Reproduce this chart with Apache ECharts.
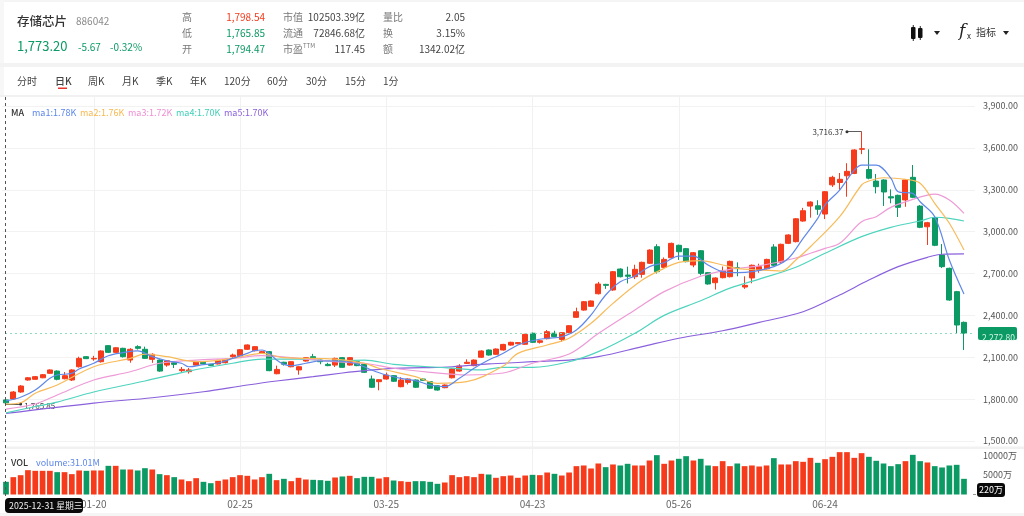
<!DOCTYPE html>
<html><head><meta charset="utf-8">
<style>html,body{margin:0;padding:0;background:#fff;overflow:hidden}#c{width:1024px;height:516px}</style>
<script src="https://cdn.jsdelivr.net/npm/echarts@6/dist/echarts.min.js"></script>
</head><body><div id="c"></div>
<script>
const dates=['12-31','01-05','01-06','01-07','01-08','01-09','01-12','01-13','01-14','01-15','01-16','01-19','01-20','01-21','01-22','01-23','01-26','01-27','01-28','01-29','01-30','02-02','02-03','02-04','02-05','02-06','02-09','02-10','02-11','02-12','02-13','02-24','02-25','02-26','02-27','03-02','03-03','03-04','03-05','03-06','03-09','03-10','03-11','03-12','03-13','03-16','03-17','03-18','03-19','03-20','03-23','03-24','03-25','03-26','03-27','03-30','03-31','04-01','04-02','04-03','04-07','04-08','04-09','04-10','04-13','04-14','04-15','04-16','04-17','04-20','04-21','04-22','04-23','04-24','04-27','04-28','04-29','04-30','05-06','05-07','05-08','05-11','05-12','05-13','05-14','05-15','05-18','05-19','05-20','05-21','05-22','05-25','05-26','05-27','05-28','05-29','06-01','06-02','06-03','06-04','06-05','06-08','06-09','06-10','06-11','06-12','06-15','06-16','06-17','06-18','06-22','06-23','06-24','06-25','06-26','06-29','06-30','07-01','07-02','07-03','07-06','07-07','07-08','07-09','07-10','07-13','07-14','07-15','07-16','07-17','07-20','07-21',''];
const opens=[1794.47,1801,1851,1937,1942,1953,1985,2001,1946,1937,2032,2104,2088,2068,2183,2135,2164,2080,2176,2157,2085,2080,2044,2061,2004,1997,2044,2064,2049,2052,2061,2104,2111,2157,2147,2128,2140,1982,2064,2032,2009,2073,2104,2080,2049,2044,2097,2044,2068,2049,1944,1925,1944,1968,1889,1920,1937,1944,1925,1896,1882,1953,2001,2056,2040,2100,2152,2121,2152,2187,2197,2193,2272,2207,2233,2272,2228,2276,2386,2438,2465,2555,2622,2582,2732,2689,2677,2694,2773,2892,2744,2813,2902,2878,2761,2863,2706,2634,2670,2677,2742,2603,2668,2725,2734,2890,2782,2916,2928,3076,3183,3185,3126,3335,3352,3400,3417,3590,3445,3362,3370,3250,3260,3227,3389,3183,3035,3100,2832,2737,2570,2350];
const closes=[1773.20,1851,1894,1953,1961,1975,2009,1942,1968,2009,2092,2090,2092,2145,2135,2168,2104,2157,2164,2092,2121,2001,2075,2049,2013,2009,2068,2054,2042,2078,2085,2116,2154,2188,2176,2140,2004,2013,2050,2068,2032,2097,2088,2068,2040,2092,2028,2097,2040,1992,1885,1939,1973,1928,1937,1944,1885,1935,1878,1865,1901,2016,2037,2064,2080,2145,2116,2159,2192,2207,2205,2264,2207,2218,2283,2248,2276,2326,2426,2498,2503,2625,2615,2713,2677,2680,2730,2780,2868,2713,2801,2916,2856,2785,2849,2701,2625,2668,2718,2787,2735,2615,2759,2749,2801,2759,2909,2976,3092,3150,3212,3160,3286,3389,3375,3432,3585,3594,3383,3322,3284,3241,3174,3370,3246,3031,3064,2902,2749,2510,2331,2272.80];
const lows=[1765.85,1795,1846,1932,1938,1950,1982,1935,1942,1930,2026,2087,2075,2062,2130,2132,2098,2061,2155,2088,2060,1996,2032,2023,1995,1983,2040,2050,2038,2048,2056,2090,2106,2152,2142,2124,2000,1978,2040,2028,1975,2069,2084,2050,2036,2030,2024,2040,2036,1988,1880,1863,1940,1924,1885,1905,1881,1931,1874,1861,1878,1948,1996,2052,2036,2096,2112,2117,2148,2183,2193,2189,2203,2198,2228,2244,2212,2272,2382,2434,2460,2550,2590,2576,2672,2629,2660,2670,2768,2700,2738,2808,2797,2780,2745,2687,2620,2585,2665,2672,2680,2590,2630,2705,2729,2754,2776,2911,2923,3071,3100,3120,3090,3320,3300,3250,3412,3555,3375,3274,3184,3203,3105,3178,3240,3025,2904,2896,2739,2505,2271,2152];
const highs=[1798.54,1858,1900,1958,1966,1980,2013,2006,1994,2014,2104,2108,2110,2150,2187,2172,2168,2165,2186,2176,2128,2085,2080,2066,2030,2023,2072,2068,2052,2082,2090,2126,2158,2192,2180,2146,2145,2040,2068,2072,2036,2101,2124,2084,2060,2097,2102,2102,2072,2053,1969,1943,1990,1972,1957,1948,1941,1948,1929,1900,1905,2021,2050,2085,2084,2150,2156,2163,2196,2211,2208,2268,2276,2222,2295,2290,2280,2330,2455,2503,2507,2640,2626,2718,2737,2749,2763,2785,2873,2910,2815,2921,2907,2883,2854,2868,2711,2673,2750,2792,2780,2680,2764,2770,2806,2910,2914,2981,3097,3170,3217,3225,3291,3400,3420,3490,3590,3716.37,3590,3413,3375,3303,3265,3375,3477,3190,3070,3110,2911,2742,2575,2356];
const volumes=[3250,4450,4950,6240,6070,6070,6070,5730,5730,5220,6160,6070,6160,6160,7350,7350,6410,6410,6160,6750,6410,5220,4960,4450,3850,3420,4190,3250,2900,3500,3850,4450,4960,4790,3850,4440,5300,3680,4020,3420,4280,3850,3760,3680,3510,4360,4620,4790,4190,4530,4530,4100,4450,3590,3420,3250,3420,3420,3250,2740,3080,4960,4450,4700,4450,5300,5130,4280,4700,4870,4280,4870,5040,4960,5640,5300,4870,5640,7270,7440,6670,7950,7010,7700,7440,7870,7440,7440,8720,10090,7870,8720,9150,9830,8720,9150,7440,7270,8550,7270,7950,7270,7440,7180,7440,9320,7700,7700,8550,8380,9400,8120,9060,9660,10860,10860,9400,10600,9660,8640,7950,7270,7780,8550,10170,8550,8210,7270,6930,7440,7610,4020];
const ma1=[[0,1787],[2,1813],[4,1865],[6,1949],[7,1973],[9,1985],[10,2016],[12,2057],[14,2111],[16,2133],[18,2145],[20,2104],[22,2075],[24,2057],[25,2032],[27,2047],[29,2059],[31,2092],[33,2128],[34,2147],[35,2152],[36,2128],[37,2080],[38,2049],[39,2039],[41,2057],[43,2073],[45,2073],[47,2064],[49,2032],[50,2009],[52,1973],[54,1949],[56,1932],[58,1901],[60,1889],[62,1949],[64,2021],[66,2080],[67,2104],[68,2128],[70,2188],[72,2219],[74,2236],[76,2247],[78,2295],[80,2403],[82,2546],[84,2641],[86,2682],[88,2749],[90,2777],[92,2825],[94,2825],[96,2761],[98,2713],[100,2706],[102,2713],[105,2749],[107,2809],[109,2952],[111,3095],[112,3191],[114,3298],[116,3441],[117,3477],[119,3477],[121,3384],[122,3286],[124,3274],[125,3214],[127,3107],[129,2797],[131,2553]];
const ma2=[[0,1765],[2,1774],[4,1842],[7,1901],[12,2032],[17,2092],[19,2123],[22,2104],[26,2068],[31,2092],[35,2128],[38,2097],[45,2087],[49,2057],[51,2021],[56,1961],[59,1913],[63,1925],[68,2037],[70,2128],[74,2188],[77,2236],[80,2343],[83,2486],[87,2653],[90,2737],[92,2780],[95,2792],[98,2761],[100,2737],[103,2725],[106,2718],[108,2797],[110,2892],[114,3107],[117,3334],[118,3363],[120,3386],[123,3375],[125,3346],[127,3203],[129,3060],[131,2868]];
const ma3=[[0,1729],[4,1765],[7,1830],[12,1937],[17,1996],[21,2057],[26,2080],[31,2092],[35,2111],[40,2092],[45,2068],[49,2057],[53,2021],[58,1992],[63,1973],[68,1987],[72,2057],[77,2123],[81,2270],[86,2438],[90,2570],[95,2680],[99,2730],[103,2755],[108,2811],[110,2845],[112,2880],[114,2916],[117,3071],[119,3107],[121,3174],[124,3231],[126,3262],[127,3269],[129,3227],[131,3131]];
const ma4=[[0,1701],[4,1747],[7,1779],[12,1851],[19,1930],[25,2001],[31,2057],[35,2087],[40,2087],[45,2073],[49,2080],[53,2049],[60,2025],[65,2009],[68,2028],[72,2028],[77,2068],[81,2140],[86,2272],[90,2400],[95,2505],[99,2595],[103,2660],[108,2745],[112,2845],[117,2964],[121,3031],[125,3076],[127,3103],[129,3095],[131,3076]];
const ma5=[[0,1698],[12,1772],[20,1810],[27,1853],[33,1901],[37,1930],[42,1961],[46,1987],[49,2004],[53,2021],[57,2025],[61,2032],[66,2052],[68,2057],[72,2068],[77,2080],[81,2104],[87,2176],[92,2236],[98,2290],[103,2350],[109,2426],[114,2546],[118,2653],[122,2749],[126,2816],[128,2838],[131,2840]];
const yTicksMin=1500,yTicksMax=3900,yStep=300;
const lastPrice=2272.80,highMark=3716.37,highIdx=117,lowMark=1765.85,lowIdx=0;

const RED='#f63b1c',GREEN='#0b9a64',FONT='"Noto Sans CJK SC","Noto Sans",sans-serif';
const isTick=i=>i>=12&&i<=112&&(i-12)%20===0;
const L=2.35,W=972.6;
const T=(text,x,y,o={})=>({type:'text',z:50,silent:true,x,y,style:Object.assign({text,fill:'#444',font:`${o.w||'normal'} ${o.s||10}px ${FONT}`,textAlign:o.a||'left',textVerticalAlign:'middle'},o.fill?{fill:o.fill}:{})});
const R=(x,y,w,h,fill,z=1,r=0)=>({type:'rect',z,silent:true,shape:{x,y,width:w,height:h,r},style:{fill}});
const Tri=(cx,cy)=>({type:'polygon',z:50,silent:true,shape:{points:[[cx-3,cy-2],[cx+3,cy-2],[cx,cy+2]]},style:{fill:'#222'}});
const graphics=[
 R(0,0,1024,2,'#f5f5f5',0),R(0,0,4,97,'#f7f7f7',0),R(0,63,1024,4,'#f3f3f3',0),R(0,95,1024,2,'#f1f1f1',0),R(5,446.5,1019,2.5,'#f1f1f1',0),R(0,513,1024,3,'#f5f5f5',0),
 T('存储芯片',17,21,{s:12.5,w:'500',fill:'#333'}),T('886042',76,21,{s:10,fill:'#8a8a8a'}),
 T('1,773.20',17,46,{s:13,fill:GREEN}),T('-5.67',78,47,{s:10,fill:GREEN}),T('-0.32%',110,47,{s:10,fill:GREEN}),
 T('高',182,17,{fill:'#777'}),T('低',182,33,{fill:'#777'}),T('开',182,49,{fill:'#777'}),
 T('1,798.54',265,17,{a:'right',fill:RED}),T('1,765.85',265,33,{a:'right',fill:GREEN}),T('1,794.47',265,49,{a:'right',fill:GREEN}),
 T('市值',283,17,{fill:'#777'}),T('流通',283,33,{fill:'#777'}),T('市盈',283,49,{fill:'#777'}),T('TTM',303,46,{s:6,fill:'#777'}),
 T('102503.39亿',365,17,{a:'right'}),T('72846.68亿',365,33,{a:'right'}),T('117.45',365,49,{a:'right'}),
 T('量比',383,17,{fill:'#777'}),T('换',383,33,{fill:'#777'}),T('额',383,49,{fill:'#777'}),
 T('2.05',465,17,{a:'right'}),T('3.15%',465,33,{a:'right'}),T('1342.02亿',465,49,{a:'right'}),
 T('分时',17,81),T('日K',55,81,{w:'500'}),T('周K',88,81),T('月K',122,81),T('季K',156,81),T('年K',190,81),T('120分',224,81),T('60分',267,81),T('30分',306,81),T('15分',345,81),T('1分',383,81),
 R(58,87.5,9,1.5,'#e8342a',50),
 R(911,27,4.5,12,'#111',50,1),R(912.8,25,.9,16,'#111',50),R(918,28,4.5,10,'#111',50,1),R(919.8,26,.9,14,'#111',50),Tri(937,33),
 {type:'text',z:50,silent:true,x:959,y:32,style:{text:'f',fill:'#222',font:'italic 17px "DejaVu Serif",serif',textVerticalAlign:'middle'}},
 T('x',967,36,{s:8,fill:'#222'}),T('指标',976,32,{s:10,fill:'#333'}),Tri(1006,33),
 T('MA',11,113,{s:9,w:'500',fill:'#333'}),T('ma1:1.78K',32,113,{s:9,fill:'#5b86ec'}),T('ma2:1.76K',80,113,{s:9,fill:'#f8b84e'}),T('ma3:1.72K',128,113,{s:9,fill:'#ee8fd3'}),T('ma4:1.70K',176,113,{s:9,fill:'#3fcfb8'}),T('ma5:1.70K',224,113,{s:9,fill:'#8a60dc'}),
 T('VOL',11,463,{s:9,w:'500',fill:'#333'}),T('volume:31.01M',36,463,{s:9,fill:'#5b86ec'}),
 {type:'line',z:40,silent:true,shape:{x1:5.5,y1:97,x2:5.5,y2:497},style:{stroke:'#555',lineWidth:1,lineDash:[3,3]}},
 R(978,327,39,13,'#0b9a64',45,2),T('2,272.80',982,338,{s:8.5,fill:'#d9f5e8'}),
 R(973,494,3,1,'#999',45),
 R(977,483,28,14,'#0a0a0a',45,3),T('220万',991,490,{s:9,a:'center',fill:'#fff'}),
 R(5,498,78,15,'#0a0a0a',60,4),{...T('2025-12-31 星期三',9,505.5,{s:8.8,fill:'#eee'}),z:61}
];
const hideAxis={axisLine:{show:false},axisTick:{show:false}};
const lineSeries=(name,data,color)=>({name,type:'line',data,xAxisIndex:0,yAxisIndex:0,symbol:'none',smooth:.35,silent:true,z:5,lineStyle:{color,width:1.2}});
const lineMark=(from,to,value)=>[{coord:[from,value]},{coord:[to,value]}];
const option={
 animation:false,backgroundColor:'#fff',textStyle:{fontFamily:FONT},
 grid:[
  {left:L,width:W,top:106,height:335},
  {left:L,width:W,top:449,height:45.5},
  {left:L,width:W,top:97,height:400}
 ],
 xAxis:[
  {type:'category',gridIndex:0,data:dates,axisLabel:{show:false},...hideAxis},
  {type:'category',gridIndex:1,data:dates,...hideAxis,axisLabel:{interval:(i)=>isTick(i),margin:5,fontSize:10,color:'#666'}},
  {type:'category',gridIndex:2,data:dates,...hideAxis,axisLabel:{show:false},splitLine:{show:true,interval:(i)=>isTick(i),alignWithLabel:true,lineStyle:{color:'#f1f1f1',width:1}}}
 ],
 yAxis:[
  {type:'value',gridIndex:0,position:'right',min:yTicksMin,max:yTicksMax,interval:yStep,...hideAxis,axisLabel:{margin:8,fontSize:9,color:'#555',formatter:v=>v.toLocaleString('en-US',{minimumFractionDigits:2,maximumFractionDigits:2})},splitLine:{lineStyle:{color:'#f2f2f2',width:1}}},
  {type:'value',gridIndex:1,position:'right',min:0,max:11666,interval:5000,...hideAxis,axisLabel:{margin:8,fontSize:9,color:'#555',showMaxLabel:false,formatter:v=>v===0?'':v+'万'},splitLine:{show:false}},
  {type:'value',gridIndex:2,show:false,min:0,max:1,splitLine:{show:false}}
 ],
 series:[
  {name:'K',type:'candlestick',xAxisIndex:0,yAxisIndex:0,barWidth:5.5,z:3,silent:true,
   data:opens.map((o,i)=>[o,closes[i],lows[i],highs[i]]),
   itemStyle:{color:RED,color0:GREEN,borderColor:RED,borderColor0:GREEN,borderWidth:1},
   markLine:{silent:true,symbol:'none',label:{show:false},data:[
     [{yAxis:lastPrice,x:5},{yAxis:lastPrice,x:975}].map(d=>({...d,lineStyle:{color:'#8fdcbb',type:[2,3],width:1}})),
     lineMark(highIdx-2,highIdx,highMark).map(d=>({...d,lineStyle:{color:'#333',type:'solid',width:.8}})),
     lineMark(lowIdx,lowIdx+2,lowMark).map(d=>({...d,lineStyle:{color:'#333',type:'solid',width:.8}}))
   ]},
   markPoint:{silent:true,symbol:'circle',symbolSize:3,itemStyle:{color:'#333'},data:[
     {coord:[highIdx-2,highMark],label:{show:true,position:'left',distance:2,formatter:'3,716.37',fontSize:8,color:'#333'}},
     {coord:[lowIdx+2,lowMark],label:{show:true,position:'right',distance:2,formatter:'1,765.85',fontSize:8,color:'#444',offset:[0,2]}}
   ]}
  },
  lineSeries('ma5',ma5,'#8a60dc'),lineSeries('ma4',ma4,'#4fd4be'),lineSeries('ma3',ma3,'#ee9ad6'),lineSeries('ma2',ma2,'#f8bb5a'),lineSeries('ma1',ma1,'#5f88ea'),
  {name:'volume',type:'bar',xAxisIndex:1,yAxisIndex:1,barWidth:5.7,silent:true,
   data:volumes.map((v,i)=>({value:v,itemStyle:{color:closes[i]>=opens[i]?RED:GREEN}}))}
 ],
 graphic:{elements:graphics}
};
const chart=echarts.init(document.getElementById('c'));
chart.setOption(option);
</script></body></html>
